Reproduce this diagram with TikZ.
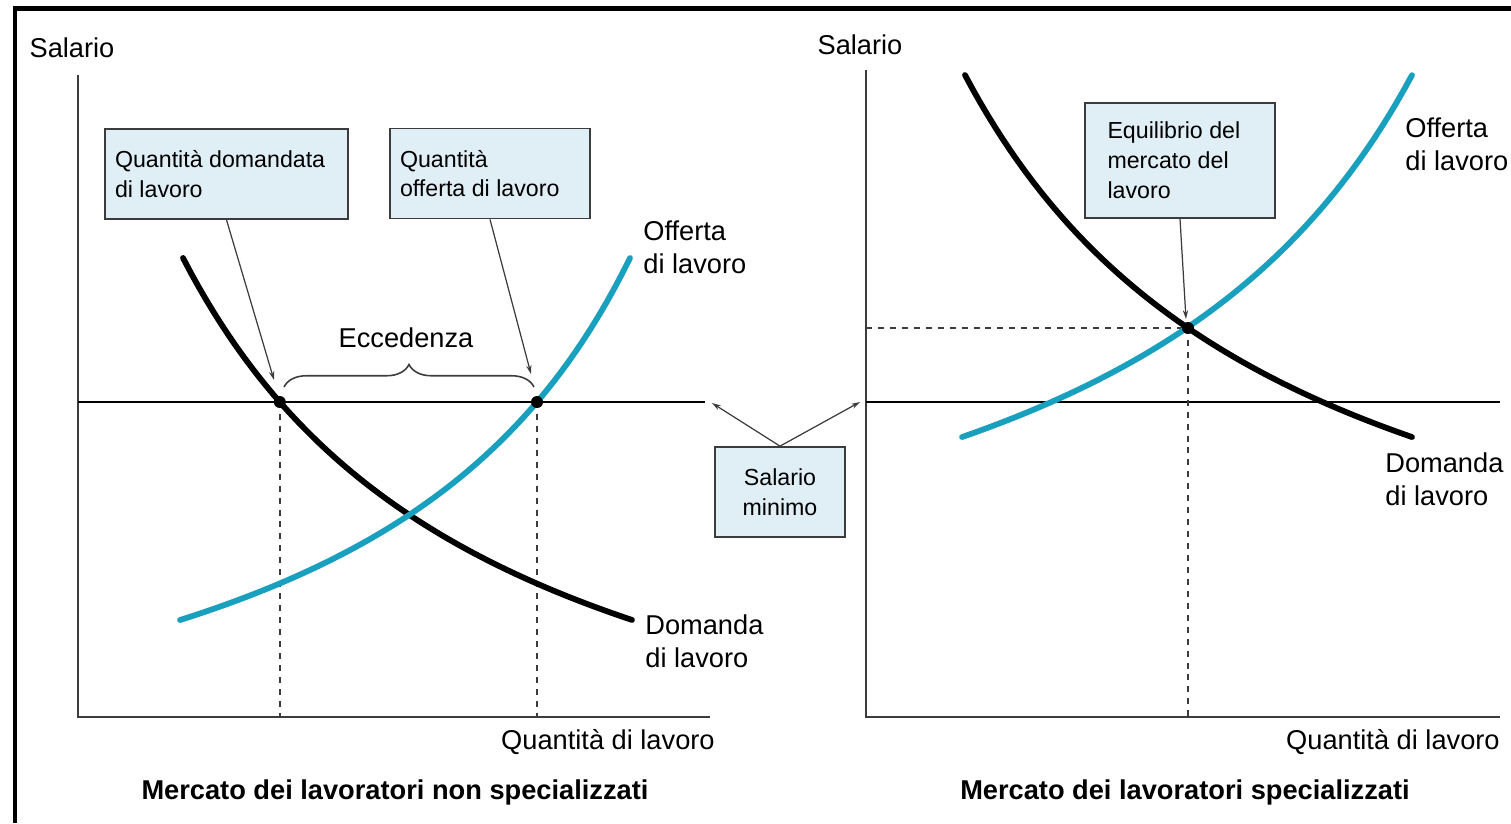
\documentclass[tikz,border=0pt]{standalone}
\usepackage{fontspec}
\setmainfont{Liberation Sans}
\usetikzlibrary{decorations.pathreplacing,arrows.meta}
\definecolor{supply}{RGB}{25,160,190}
\definecolor{boxfill}{RGB}{224,239,245}
\definecolor{axisgray}{RGB}{60,60,60}
\newcommand\boxfont{\fontsize{13.2}{17}\selectfont}
\newcommand\lblfont{\fontsize{15.5}{18.7}\selectfont}
\newcommand\titlefont{\fontsize{15.5}{19}\selectfont\bfseries}
\tikzset{
  axis/.style={axisgray,line width=1.2pt},
  wage/.style={black,line width=1.1pt},
  demand/.style={black,line width=3.3pt,line cap=round},
  offer/.style={supply,line width=3.3pt,line cap=round},
  guide/.style={axisgray,line width=0.9pt,dash pattern=on 3.4pt off 3.4pt},
  pointer/.style={axisgray,line width=0.7pt,-{Stealth[length=5pt,width=3pt]}},
  lbox/.style={draw=axisgray,line width=1pt,fill=boxfill,font=\boxfont,
    align=flush left,inner xsep=0.2cm,minimum height=1.8cm},
  lbl/.style={font=\lblfont,align=left,inner sep=0pt},
  dot/.style={circle,fill=black,inner sep=0pt,minimum size=0.24cm},
}
\begin{document}
\begin{tikzpicture}[x=0.02cm,y=-0.02cm]
\useasboundingbox (0,0) rectangle (1511,823);
% frame
\draw[line width=0.1cm] (15,823) -- (15,8) -- (1511,8);

% unskilled market
\draw[axis] (78,75) -- (78,717) -- (710,717);
\node[lbl] (wageL) at (72,48) {Salario};
\node[lbl,anchor=east] (qtyL) at (715,742) {Quantità di lavoro};
\node[font=\titlefont] (titleL) at (395,792) {Mercato dei lavoratori non specializzati};
\draw[wage] (78,402) -- (705,402);
\coordinate (lo) at (279.8,402);
\coordinate (hi) at (537,402);
\draw[guide] (lo) -- (279.8,717);
\draw[guide] (hi) -- (537,717);
\draw[demand] plot[domain=183:632,samples=60] (\x,{877.6-1980.4/((\x+136.6)/100)});
\draw[offer] plot[domain=180:630,samples=60] (\x,{855.7+1751.21/((\x-923)/100)});
\node[dot] at (lo) {};
\node[dot] at (hi) {};
\draw[axisgray,line width=0.9pt,decorate,decoration={brace,amplitude=0.45cm}]
  (284,387) -- (534,387);
\node[lbl] (exc) at (406,338) {Eccedenza};
\node[lbl,anchor=west] (offL) at (643,247) {Offerta\\di lavoro};
\node[lbl,anchor=west] (domL) at (645,641) {Domanda\\di lavoro};
\node[lbox,text width=4.46cm] (qd) at (226.5,174) {Quantità domandata\\di lavoro};
\node[lbox,text width=3.6cm] (qo) at (490,173.5) {Quantità\\offerta di lavoro};
\coordinate (qdtip) at (274,380);
\coordinate (qotip) at (531,374);
\draw[pointer] (qd.south) -- (qdtip);
\draw[pointer] (qo.south) -- (qotip);

% minimum wage
\node[lbox,align=center,text width=2.2cm] (sm) at (780,492) {Salario\\minimo};
\coordinate (smL) at (712,403);
\coordinate (smR) at (860,402);
\draw[pointer] (sm.north) -- (smL);
\draw[pointer] (sm.north) -- (smR);

% skilled market
\draw[axis] (866,70) -- (866,717) -- (1500,717);
\node[lbl] (wageR) at (860,45) {Salario};
\node[lbl,anchor=east] (qtyR) at (1500,742) {Quantità di lavoro};
\node[font=\titlefont] (titleR) at (1185,792) {Mercato dei lavoratori specializzati};
\draw[wage] (866,402) -- (1500,402);
\coordinate (eq) at (1188,328);
\draw[guide] (866,328) -- (eq);
\draw[guide] (eq) -- (1188,717);
\draw[offer] plot[domain=962:1412,samples=60] (\x,{713.2+2191.1/((\x-1755.4)/100)});
\draw[demand] plot[domain=965:1412,samples=60] (\x,{708.9-2127.88/((\x-629.3)/100)});
\node[dot] at (eq) {};
\node[lbl,anchor=west] (offR) at (1405,144) {Offerta\\di lavoro};
\node[lbl,anchor=west] (domR) at (1385,479) {Domanda\\di lavoro};
\node[lbox,text width=2.9cm,inner xsep=0.45cm,minimum height=2.3cm] (eqbox) at (1180,160.5)
  {Equilibrio del\\mercato del\\lavoro};
\coordinate (eqtip) at (1186,319);
\draw[pointer] (eqbox.south) -- (eqtip);
\end{tikzpicture}
\end{document}
